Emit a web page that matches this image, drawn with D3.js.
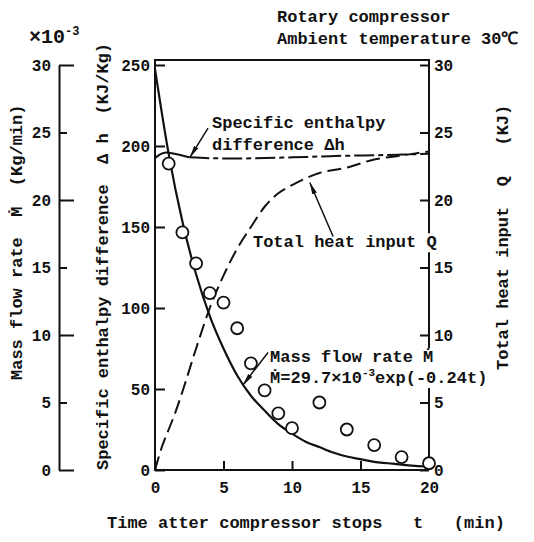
<!DOCTYPE html>
<html lang="en">
<head>
  <meta charset="UTF-8">
  <title>Rotary compressor - mass flow after stop</title>
  <script src="https://cdnjs.cloudflare.com/ajax/libs/d3/7.8.5/d3.min.js"></script>
  <style>
    body { margin: 0; background: white; }
    svg { background: white; }
    text { font-family: "Liberation Mono", "DejaVu Sans Mono", monospace; fill: #111; }
  </style>
</head>
<body>
  <script>
    // fitted mass flow curve, x10^-3 kg/min
    var tFit = [0, 1, 2, 3, 4, 5, 6, 7, 8, 9, 10, 11, 12, 13, 14, 15, 16, 17, 18, 19, 20];
    var mFit = [29.7, 23.4, 18.4, 14.5, 11.4, 9.0, 7.0, 5.5, 4.4, 3.4, 2.7, 2.1, 1.7, 1.3, 1.0, 0.8, 0.6, 0.5, 0.4, 0.3, 0.25];

    // measured mass flow (circles)
    var tMeas = [1, 2, 3, 4, 5, 6, 7, 8, 9, 10, 12, 14, 16, 18, 20];
    var mMeas = [22.7, 17.6, 15.3, 13.1, 12.4, 10.5, 7.9, 5.9, 4.2, 3.1, 5.0, 3.0, 1.85, 0.96, 0.5];

    // specific enthalpy difference, kJ/kg
    var tDh = [0, 0.4, 0.8, 1.5, 2.5, 4, 6, 8, 10, 12, 14, 16, 18, 20];
    var dh = [192.5, 195, 196, 195, 193, 192.5, 192.3, 192.6, 193, 193.5, 194, 194.3, 194.7, 195.2];

    // total heat input, kJ
    var tQ = [0, 0.5, 1, 1.5, 2, 3, 4, 5, 6, 7, 8, 9, 10, 12, 14, 16, 18, 20];
    var qIn = [0, 1.7, 3.0, 4.3, 5.8, 9.0, 12.0, 14.4, 16.4, 18.0, 19.5, 20.5, 21.1, 22.0, 22.4, 23.0, 23.3, 23.6];

    var xTicks = [0, 5, 10, 15, 20];
    var hTicks = [0, 50, 100, 150, 200, 250];
    var mTicks = [0, 5, 10, 15, 20, 25, 30];
    var qTicks = [0, 5, 10, 15, 20, 25, 30];

    var w = 534, h = 542;
    var pLeft = 155, pRight = 429, pTop = 60, pBottom = 470;

    var svg = d3.select("body").append("svg")
      .attr("width", w)
      .attr("height", h);

    svg.append("defs").append("marker")
      .attr("id", "arr")
      .attr("viewBox", "0 0 12 6")
      .attr("refX", 12).attr("refY", 3)
      .attr("markerWidth", 12).attr("markerHeight", 6)
      .attr("markerUnits", "userSpaceOnUse")
      .attr("orient", "auto")
      .append("path").attr("d", "M0,0.5L12,3L0,5.5Z").attr("fill", "#111");

    var x = d3.scaleLinear().domain([0, 20]).range([pLeft, pRight]);
    var yH = d3.scaleLinear().domain([0, 250]).range([pBottom, 65]);
    var yM = d3.scaleLinear().domain([0, 30]).range([pBottom, 65]);
    var yQ = d3.scaleLinear().domain([0, 30]).range([pBottom, 65]);

    function style(g, size) {
      g.attr("font-family", null).attr("font-size", size).attr("font-weight", "bold");
      g.selectAll("line").attr("stroke", "#111").attr("stroke-width", 2);
      g.selectAll("path.domain").attr("stroke", "#111").attr("stroke-width", 2);
      g.selectAll("text").attr("fill", "#111");
    }

    // outer left axis: mass flow
    var gM = svg.append("g")
      .attr("transform", "translate(59,0)")
      .call(d3.axisLeft(yM).tickValues(mTicks).tickSize(-15).tickSizeOuter(0).tickPadding(8))
      .call(style, 16);
    gM.selectAll(".tick").filter(function(d) { return d % 10 !== 0; })
      .select("line").attr("x2", 8);

    // inner left axis: enthalpy
    var gH = svg.append("g")
      .attr("transform", "translate(" + pLeft + ",0)")
      .call(d3.axisLeft(yH).tickValues(hTicks).tickSize(-10).tickSizeOuter(0).tickPadding(5))
      .call(style, 16);
    gH.select(".domain").remove();

    // right axis: heat input
    var gQ = svg.append("g")
      .attr("transform", "translate(" + pRight + ",0)")
      .call(d3.axisRight(yQ).tickValues(qTicks).tickSize(-9).tickSizeOuter(0).tickPadding(5))
      .call(style, 16);
    gQ.select(".domain").remove();

    // bottom axis: time
    var gX = svg.append("g")
      .attr("transform", "translate(0," + pBottom + ")")
      .call(d3.axisBottom(x).tickValues(xTicks).tickSize(-9).tickSizeOuter(0).tickPadding(12))
      .call(style, 16);
    gX.select(".domain").remove();

    // frame
    svg.append("path")
      .attr("d", "M" + pRight + "," + pBottom + "H" + pLeft + "V" + pTop + "H" + pRight + "V" + pBottom)
      .attr("fill", "none").attr("stroke", "#111").attr("stroke-width", 2);

    // curves
    var fitLine = d3.line()
      .x(function(d, i) { return x(tFit[i]); })
      .y(function(d) { return yM(d); })
      .curve(d3.curveMonotoneX);
    svg.append("path").datum(mFit)
      .attr("d", fitLine)
      .attr("fill", "none").attr("stroke", "#111").attr("stroke-width", 2.2);

    var dhPts = tDh.map(function(t, i) { return [x(t), yH(dh[i])]; });
    var dhLine = d3.line().curve(d3.curveMonotoneX);
    svg.append("path").datum(dhPts.slice(0, 5))
      .attr("d", dhLine)
      .attr("fill", "none").attr("stroke", "#111").attr("stroke-width", 2);
    svg.append("path").datum(dhPts.slice(4))
      .attr("d", dhLine)
      .attr("fill", "none").attr("stroke", "#111").attr("stroke-width", 2)
      .attr("stroke-dasharray", "20,4,5,4");

    var qLine = d3.line()
      .x(function(d, i) { return x(tQ[i]); })
      .y(function(d) { return yQ(d); })
      .curve(d3.curveMonotoneX);
    svg.append("path").datum(qIn)
      .attr("d", qLine)
      .attr("fill", "none").attr("stroke", "#111").attr("stroke-width", 2)
      .attr("stroke-dasharray", "14,6");

    svg.selectAll("circle.meas")
      .data(mMeas)
      .enter()
      .append("circle")
      .attr("class", "meas")
      .attr("cx", function(d, i) { return x(tMeas[i]); })
      .attr("cy", function(d) { return yM(d); })
      .attr("r", 6)
      .attr("fill", "white")
      .attr("stroke", "#111")
      .attr("stroke-width", 1.8);

    // arrows
    function arrow(x1, y1, x2, y2) {
      svg.append("line")
        .attr("x1", x1).attr("y1", y1).attr("x2", x2).attr("y2", y2)
        .attr("stroke", "#111").attr("stroke-width", 1.5)
        .attr("marker-end", "url(#arr)");
    }
    arrow(x(3.87), yH(211), x(2.55), yH(193));
    arrow(x(13.0), yQ(17.3), x(11.3), yQ(21.3));
    arrow(x(8.25), yM(8.7), x(6.42), yM(6.3));

    // annotations
    function note(px, py, str) {
      return svg.append("text")
        .attr("x", px).attr("y", py)
        .attr("font-size", 17)
        .attr("font-weight", "bold")
        .attr("xml:space", "preserve")
        .text(str);
    }
    note(x(4.16), yH(211), "Specific enthalpy");
    note(x(4.16), yH(197.5), "difference \u0394h");
    var tq = note(x(7.15), yQ(16.5), "Total heat input Q");
    var m1 = note(x(8.4), yM(8), "Mass flow rate \u1E40");
    var m2 = note(x(8.4), yM(6.45), "\u1E40=29.7\u00D710");
    m2.append("tspan").attr("dy", -7).attr("font-size", 11).text("-3");
    m2.append("tspan").attr("dy", 7).text("exp(-0.24t)");

    // gaps in the right axis where labels cross it
    [tq, m1, m2].forEach(function(t) {
      var b = t.node().getBBox();
      svg.insert("rect", function() { return t.node(); })
        .attr("x", pRight - 3).attr("width", 6)
        .attr("y", b.y).attr("height", b.height)
        .attr("fill", "white");
    });

    // axis titles
    function vtitle(px, py, str, anchor) {
      svg.append("text")
        .attr("transform", "translate(" + px + "," + py + ") rotate(-90)")
        .attr("dy", "0.35em")
        .attr("text-anchor", anchor || "start")
        .attr("font-size", 17)
        .attr("font-weight", "bold")
        .attr("xml:space", "preserve")
        .text(str);
    }
    vtitle(16, 380, "Mass flow rate  \u1E40  (Kg/min)");
    vtitle(102, 470, "Specific enthalpy difference  \u0394 h");
    vtitle(102, 43, "(KJ/Kg)", "end");
    vtitle(502, 370, "Total heat input  Q   (KJ)");

    var top1 = svg.append("text").attr("x", 29).attr("y", 43)
      .attr("font-size", 20).attr("font-weight", "bold").text("\u00D710");
    top1.append("tspan").attr("dy", -8).attr("font-size", 12).text("-3");

    note(277, 22, "Rotary compressor");
    note(277, 44, "Ambient temperature 30\u2103");
    note(107, 528, "Time atter compressor stops   t   (min)");
  </script>
</body>
</html>
